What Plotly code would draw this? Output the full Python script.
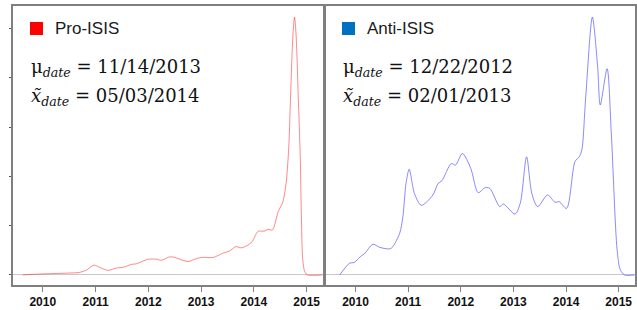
import plotly.graph_objects as go

# ---- data (decimal years, relative density) ----
pro_years = [2009.62, 2010.0, 2010.45, 2010.7, 2010.83, 2010.97, 2011.1, 2011.24, 2011.4, 2011.53,
             2011.68, 2011.77, 2012.0, 2012.15, 2012.25, 2012.4, 2012.5, 2012.75, 2012.88, 2013.0,
             2013.23, 2013.41, 2013.54, 2013.66, 2013.76, 2013.95, 2014.08, 2014.2, 2014.27, 2014.35,
             2014.46, 2014.55, 2014.61, 2014.66, 2014.70, 2014.74, 2014.77, 2014.80, 2014.84, 2014.88,
             2014.90, 2014.93, 2014.97, 2015.02, 2015.3]
pro_vals = [0.0, 0.004, 0.007, 0.01, 0.019, 0.038, 0.027, 0.018, 0.027, 0.03,
            0.041, 0.043, 0.061, 0.061, 0.057, 0.07, 0.068, 0.052, 0.061, 0.068,
            0.068, 0.084, 0.093, 0.11, 0.105, 0.125, 0.169, 0.17, 0.177, 0.174,
            0.245, 0.284, 0.355, 0.49, 0.72, 0.93, 1.0, 0.93, 0.70, 0.45,
            0.23, 0.05, 0.01, 0.0, 0.0]

anti_years = [2009.70, 2009.89, 2009.97, 2010.11, 2010.17, 2010.33, 2010.46, 2010.65, 2010.71, 2010.84,
              2010.90, 2010.96, 2011.02, 2011.12, 2011.25, 2011.47, 2011.57, 2011.64, 2011.82, 2011.90,
              2012.03, 2012.19, 2012.33, 2012.46, 2012.55, 2012.74, 2012.81, 2013.03, 2013.13, 2013.25,
              2013.35, 2013.46, 2013.65, 2013.79, 2013.87, 2014.01, 2014.17, 2014.25, 2014.30, 2014.37,
              2014.50, 2014.60, 2014.65, 2014.78, 2014.86, 2014.97, 2015.03, 2015.11, 2015.3]
anti_vals = [0.0, 0.046, 0.048, 0.074, 0.082, 0.119, 0.107, 0.101, 0.11, 0.162,
             0.226, 0.355, 0.41, 0.316, 0.27, 0.31, 0.355, 0.365, 0.432, 0.426,
             0.471, 0.413, 0.319, 0.338, 0.336, 0.265, 0.275, 0.236, 0.278, 0.458,
             0.316, 0.265, 0.31, 0.282, 0.284, 0.258, 0.44, 0.458, 0.485, 0.678,
             1.0, 0.807, 0.659, 0.8, 0.549, 0.098, 0.02, 0.0, 0.0]

year_ticks = [2010, 2011, 2012, 2013, 2014, 2015]
panel_names = ["Pro-ISIS", "Anti-ISIS"]
panel_colors = ["#ff0000", "#0070c0"]
line_colors = ["rgba(255,40,40,0.55)", "rgba(60,60,255,0.6)"]
mean_dates = ["11/14/2013", "12/22/2012"]
median_dates = ["05/03/2014", "02/01/2013"]

W, H = 637, 310
fig = go.Figure()

fig.add_trace(go.Scatter(x=pro_years, y=pro_vals, mode="lines", xaxis="x", yaxis="y",
                         line=dict(color=line_colors[0], width=1, shape="spline", smoothing=0.8),
                         showlegend=False, hoverinfo="skip"))
fig.add_trace(go.Scatter(x=anti_years, y=anti_vals, mode="lines", xaxis="x2", yaxis="y2",
                         line=dict(color=line_colors[1], width=1, shape="spline", smoothing=0.8),
                         showlegend=False, hoverinfo="skip"))

dom_x1 = [12.7 / W, 323 / W]
dom_x2 = [325.5 / W, 635 / W]
dom_y = [1 - 285 / H, 1 - 6 / H]
xr = [2009.43, 2015.31]
yr = [-0.039, 1.043]

axis_common = dict(range=xr, tickvals=year_ticks, ticktext=[str(t) for t in year_ticks],
                   ticks="outside", ticklen=5, tickcolor="#7f7f7f", tickwidth=1,
                   showline=True, mirror=True, linecolor="#7f7f7f", linewidth=1.5,
                   showgrid=False, zeroline=False,
                   tickfont=dict(family="Liberation Sans", size=12, color="#111", weight="bold"))
yaxis_common = dict(range=yr, showline=True, mirror=True, linecolor="#7f7f7f", linewidth=1.5,
                    showgrid=False, zeroline=True, zerolinecolor="#c8c8c8", zerolinewidth=1,
                    showticklabels=False)

fig.update_layout(
    width=W, height=H, margin=dict(l=0, r=0, t=0, b=0),
    paper_bgcolor="white", plot_bgcolor="white",
    xaxis=dict(domain=dom_x1, anchor="y", **axis_common),
    xaxis2=dict(domain=dom_x2, anchor="y2", **axis_common),
    yaxis=dict(domain=dom_y, anchor="x", ticks="outside", ticklen=2, tickcolor="#555",
               dtick=0.191, tick0=0, **yaxis_common),
    yaxis2=dict(domain=dom_y, anchor="x2", ticks="", **yaxis_common),
)

text_font = dict(family="Liberation Sans", size=17, color="#1a1a1a")
math_font = dict(family="DejaVu Serif", size=18, color="#111")
lefts = [30, 342]
for i in range(2):
    x0 = lefts[i]
    fig.add_shape(type="rect", xref="paper", yref="paper",
                  x0=x0 / W, x1=(x0 + 13) / W, y0=1 - 35 / H, y1=1 - 22 / H,
                  fillcolor=panel_colors[i], line=dict(width=0))
    fig.add_annotation(xref="paper", yref="paper", x=(x0 + 23) / W, y=1 - 29 / H,
                       xanchor="left", yanchor="middle", showarrow=False,
                       text=panel_names[i], font=text_font)
    fig.add_annotation(xref="paper", yref="paper", x=(x0 - 1) / W, y=1 - 68 / H,
                       xanchor="left", yanchor="middle", showarrow=False,
                       text="μ<sub><i>date</i></sub> = " + mean_dates[i], font=math_font)
    fig.add_annotation(xref="paper", yref="paper", x=(x0 - 1) / W, y=1 - 97 / H,
                       xanchor="left", yanchor="middle", showarrow=False,
                       text="<i>x̃</i><sub><i>date</i></sub> = " + median_dates[i], font=math_font)

fig.write_html("out.html", config={"displayModeBar": False},
               post_script="document.body.style.margin='0';")
